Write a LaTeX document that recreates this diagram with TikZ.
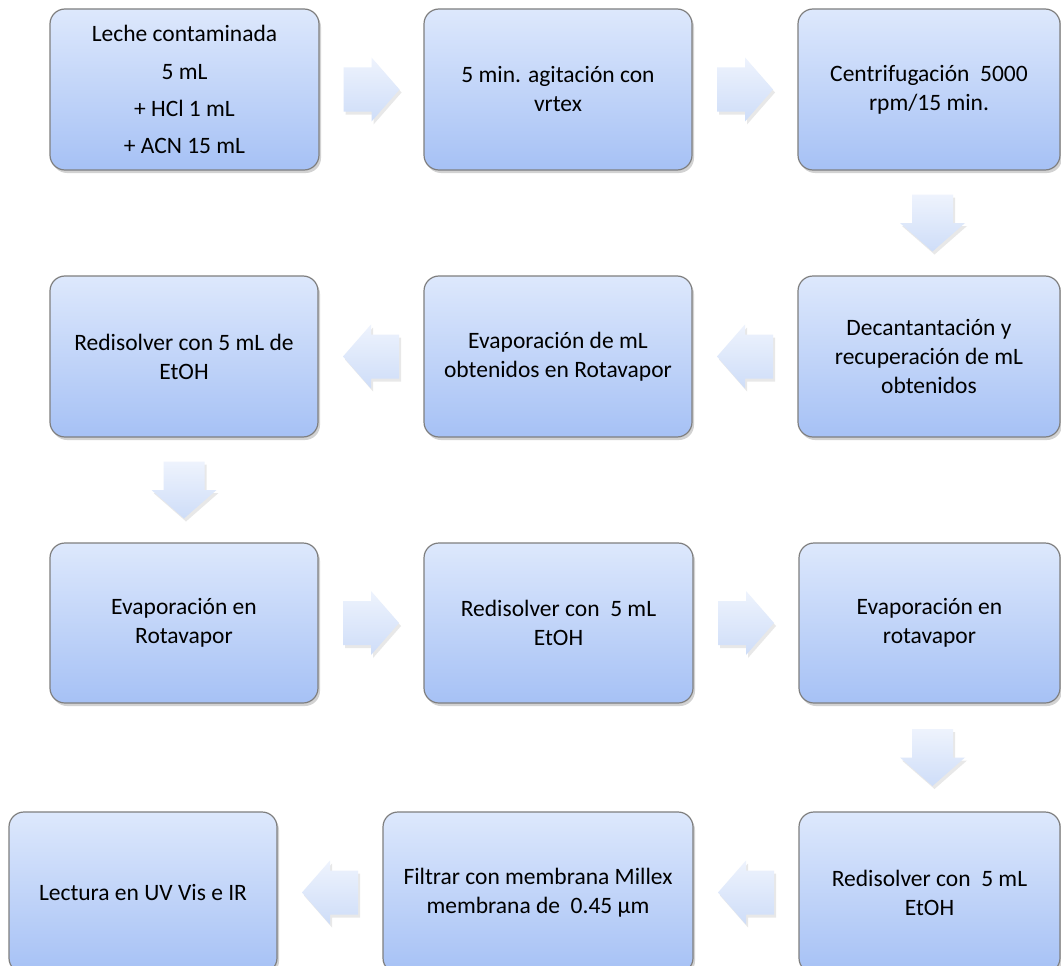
\documentclass[tikz,border=0pt]{standalone}
\usepackage{fontspec}
\setmainfont{Carlito}
\usetikzlibrary{shadows,calc}
\definecolor{boxtop}{HTML}{DDE8FC}
\definecolor{boxbot}{HTML}{A6C1F5}
\definecolor{boxline}{HTML}{7F7F7F}
\definecolor{arrtop}{HTML}{EEF3FD}
\definecolor{arrbot}{HTML}{CEDDF8}
\tikzset{
  stepbox/.style={draw=boxline, line width=1.2pt, rounded corners=15pt,
    top color=boxtop, bottom color=boxbot, minimum height=161pt,
    inner sep=0pt, align=center, text=black,
    font=\fontsize{23.5}{29}\selectfont,
    drop shadow={opacity=0.35, shadow xshift=2pt, shadow yshift=-3pt}},
  flowarrow/.style={top color=arrtop, bottom color=arrbot, draw=none,
    drop shadow={opacity=0.18, shadow xshift=2pt, shadow yshift=-3pt}},
  rarrow/.pic={\path[flowarrow] (-28,-22) -- (0,-22) -- (0,-32) -- (28,0)
     -- (0,32) -- (0,22) -- (-28,22) -- cycle;},
  larrow/.pic={\path[flowarrow] (28,-22) -- (0,-22) -- (0,-32) -- (-28,0)
     -- (0,32) -- (0,22) -- (28,22) -- cycle;},
  darrow/.pic={\path[flowarrow] (-20.5,-28.5) -- (20.5,-28.5) -- (20.5,0)
     -- (32.5,0) -- (0,28.5) -- (-32.5,0) -- (-20.5,0) -- cycle;}
}
\begin{document}
\begin{tikzpicture}[x=1pt,y=-1pt]
\useasboundingbox[fill=white] (0,0) rectangle (1061,966);
% row 1
\node[stepbox, minimum width=269pt] (b1) at (184.5,89.5)
  {Leche contaminada\\[9pt]5 mL\\[8pt]+ HCl 1 mL\\[8pt]+ ACN 15 mL};
\node[stepbox, minimum width=268pt] (b2) at (558,89.5)
  {5 min. agitación con\\vrtex};
\node[stepbox, minimum width=262pt] (b3) at (929,89.5)
  {Centrifugación~ 5000\\rpm/15 min.};
% row 2
\node[stepbox, minimum width=262pt] (b4) at (929,356.5)
  {Decantantación y\\recuperación de mL\\obtenidos};
\node[stepbox, minimum width=268pt] (b5) at (558,356.5)
  {Evaporación de mL\\obtenidos en Rotavapor};
\node[stepbox, minimum width=268pt] (b6) at (184,356.5)
  {Redisolver con 5 mL de\\EtOH};
% row 3
\node[stepbox, minimum width=268pt, minimum height=160pt] (b7) at (184,623)
  {Evaporación en\\Rotavapor};
\node[stepbox, minimum width=269pt, minimum height=160pt] (b8) at (558.5,623)
  {Redisolver con~ 5 mL\\EtOH};
\node[stepbox, minimum width=261pt, minimum height=160pt] (b9) at (929.5,623)
  {Evaporación en\\rotavapor};
% row 4
\node[stepbox, minimum width=261pt] (b10) at (929.5,892.5)
  {Redisolver con~ 5 mL\\EtOH};
\node[stepbox, minimum width=310pt] (b11) at (538,892.5)
  {Filtrar con membrana Millex\\membrana de~ 0.45 µm};
\node[stepbox, minimum width=268pt] (b12) at (143,892.5)
  {Lectura en UV Vis e IR};
% arrows
\pic at ($(b1.east)!0.5!(b2.west)$) {rarrow};
\pic at ($(b2.east)!0.5!(b3.west)$) {rarrow};
\pic at ($(b3.south)!0.5!(b4.north)+(3.5,0)$) {darrow};
\pic at ($(b4.west)!0.5!(b5.east)$) {larrow};
\pic at ($(b5.west)!0.5!(b6.east)$) {larrow};
\pic at ($(b6.south)!0.5!(b7.north)$) {darrow};
\pic at ($(b7.east)!0.5!(b8.west)$) {rarrow};
\pic at ($(b8.east)!0.5!(b9.west)$) {rarrow};
\pic at ($(b9.south)!0.5!(b10.north)+(3,0)$) {darrow};
\pic at ($(b10.west)!0.5!(b11.east)$) {larrow};
\pic at ($(b11.west)!0.5!(b12.east)$) {larrow};
\end{tikzpicture}
\end{document}
